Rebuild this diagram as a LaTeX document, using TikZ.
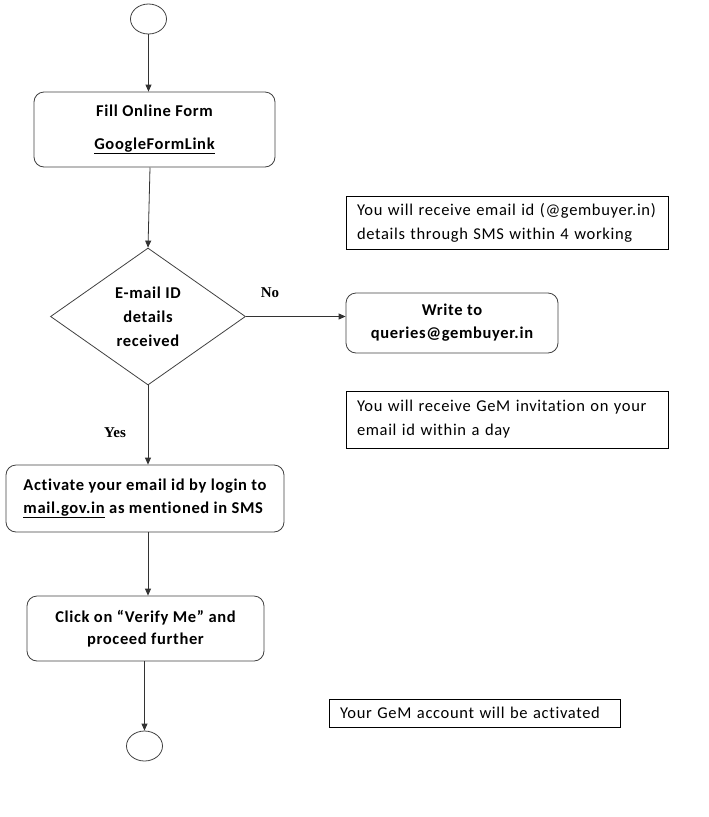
\documentclass[tikz,border=0pt]{standalone}
\usepackage{fontspec}
\setmainfont{Carlito}[Ligatures=NoCommon,LetterSpace=4]
\newfontfamily\timesfont{Liberation Serif}
\usetikzlibrary{arrows.meta,shapes.geometric}
\begin{document}
\begin{tikzpicture}[x=1pt,y=-1pt,
  line width=0.8pt,
  every node/.style={font=\fontsize{16.5}{23}\selectfont},
  flow/.style={draw=black!80, -{Triangle[length=7pt,width=6pt]}},
  roundbox/.style={draw=black!75, rounded corners=10pt, inner sep=0pt, align=center, font=\bfseries\fontsize{16.5}{23}\selectfont},
  notebox/.style={draw=black, inner ysep=0pt, align=left},
  terminal/.style={draw=black!75, ellipse, minimum width=36pt, minimum height=30pt, inner sep=0pt},
  decision/.style={draw=black!75, diamond, minimum width=195pt, minimum height=137pt, inner sep=0pt, align=center, font=\bfseries\fontsize{16.5}{24}\selectfont},
  answer/.style={font=\timesfont\bfseries\fontsize{15}{18}\selectfont}
]
\useasboundingbox (0,0) rectangle (709,817);

\node[terminal] (start) at (148.5,19) {};
\node[roundbox, minimum width=241pt, minimum height=75pt, font=\bfseries\fontsize{16.5}{33}\selectfont] (fill) at (154.5,129.5) {Fill Online Form\\\underline{GoogleFormLink}};
\coordinate (fillout) at (150,167.5);
\node[decision] (dia) at (148,316.5) {E-mail ID\\details\\received};
\node[roundbox, minimum width=212pt, minimum height=60pt] (write) at (452,323) {Write to\\queries@gembuyer.in};
\node[roundbox, minimum width=278pt, minimum height=67pt, align=left] (act) at (145,498.5) {Activate your email id by login to\\\underline{mail.gov.in} as mentioned in SMS};
\node[roundbox, minimum width=237pt, minimum height=65pt, font=\bfseries\fontsize{16.5}{22}\selectfont] (click) at (145.5,628.5) {Click on “Verify Me” and\\proceed further};
\node[terminal] (end) at (144.5,746) {};

\node[notebox, text width=300pt, inner xsep=11pt, minimum height=53pt, font=\fontsize{16.5}{24}\selectfont] (note1) at (507,222.5) {\mbox{You will receive email id (@gembuyer.in)}\\\mbox{details through SMS within 4 working}};
\node[notebox, text width=300pt, inner xsep=11pt, minimum height=57pt, font=\fontsize{16.5}{24}\selectfont] (note2) at (507,419.5) {\mbox{You will receive GeM invitation on your}\\\mbox{email id within a day}};
\node[notebox, text width=269pt, inner xsep=11pt, minimum height=28pt] (note3) at (474.5,713) {\mbox{Your GeM account will be activated}};

\node[answer] (no) at (270,293) {No};
\node[answer] (yes) at (115,433) {Yes};

\draw[flow] (start.south) -- (start |- fill.north);
\draw[flow] (fillout) -- (dia.north);
\draw[flow] (dia.east) -- (write.west |- dia.east);
\draw[flow] (dia.south) -- (dia.south |- act.north);
\draw[flow] (dia.south |- act.south) -- (dia.south |- click.north);
\draw[flow] (end |- click.south) -- (end.north);
\end{tikzpicture}
\end{document}
